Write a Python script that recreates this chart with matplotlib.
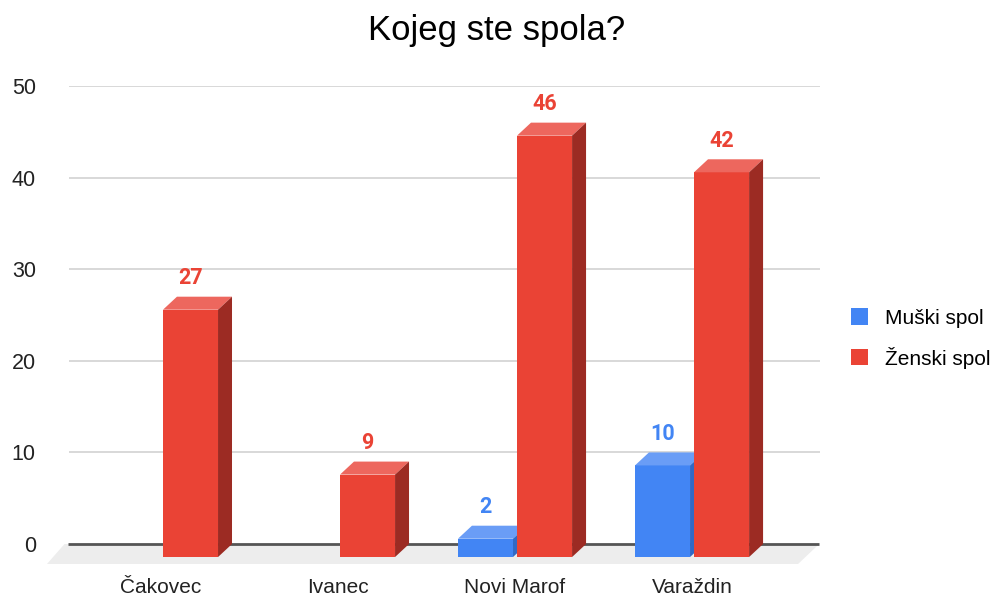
import matplotlib.pyplot as plt
from matplotlib.patches import Polygon, Patch

# data
categories = ["Čakovec", "Ivanec", "Novi Marof", "Varaždin"]
muski = [0, 0, 2, 10]
zenski = [27, 9, 46, 42]
series_names = ["Muški spol", "Ženski spol"]
yticks = [0, 10, 20, 30, 40, 50]

# colors: front, top, side
blue = ("#4285F4", "#6A9DF6", "#3169C6")
red = ("#EA4335", "#ED675E", "#9C2B23")

fig = plt.figure(figsize=(9.93, 5.96), dpi=100)
ax = fig.add_axes([0.0473, 0.0537, 0.7785, 0.802])
ax.set_xlim(-0.644, 3.723)
ax.set_ylim(-2.18, 50)
for s in ax.spines.values():
    s.set_visible(False)

# fake 3d depth (in data units)
dx = 0.079
dy = 1.42
w = 0.311
gap = 0.0113

# floor
ax.add_patch(Polygon([(-0.545, 0), (3.718, 0), (3.599, -2.18), (-0.644, -2.18)],
                     closed=True, color="#ededed", lw=0, zorder=1))

# gridlines on the back wall
ax.hlines(yticks[1:], -0.52, 3.723, color="#d6d6d6", lw=1.3, zorder=2)
ax.hlines(0, -0.525, 3.718, color="#555555", lw=2, zorder=2)


def bar3d(x0, v, cols):
    ax.bar(x0, v, bottom=-dy, width=w, align="edge", color=cols[0], lw=0, zorder=3)
    ax.add_patch(Polygon([(x0, v - dy), (x0 + w, v - dy), (x0 + w + dx, v), (x0 + dx, v)],
                         closed=True, color=cols[1], lw=0, zorder=3))
    ax.add_patch(Polygon([(x0 + w, -dy), (x0 + w + dx, 0), (x0 + w + dx, v), (x0 + w, v - dy)],
                         closed=True, color=cols[2], lw=0, zorder=3))
    ax.text(x0 + w / 2, v + 2.0, str(v), ha="center", va="center", color=cols[0],
            fontsize=15.5, fontweight="bold", family="Roboto", zorder=4)


for i in range(len(categories)):
    if muski[i]:
        bar3d(i - gap - w, muski[i], blue)
    if zenski[i]:
        bar3d(i + gap, zenski[i], red)

# axes labels
ax.set_xticks(range(len(categories)))
ax.set_xticklabels(categories, family="Liberation Sans", fontsize=15, color="#222222")
ax.set_yticks(yticks)
ax.set_yticklabels([str(t) for t in yticks], family="Liberation Sans", fontsize=15.5, color="#222222")
ax.tick_params(length=0)
ax.tick_params(axis="x", pad=10)
ax.tick_params(axis="y", pad=8)

fig.text(0.5, 0.948, "Kojeg ste spola?", ha="center", va="center",
         family="Liberation Sans", fontsize=25, color="#000000")

handles = [Patch(facecolor=blue[0], label=series_names[0]),
           Patch(facecolor=red[0], label=series_names[1])]
fig.legend(handles=handles, loc="center left", bbox_to_anchor=(0.838, 0.432),
           frameon=False, prop={"family": "Liberation Sans", "size": 15},
           handlelength=0.82, handleheight=0.82, handletextpad=0.8, labelspacing=0.9)

fig.savefig("out.png", dpi=100)
